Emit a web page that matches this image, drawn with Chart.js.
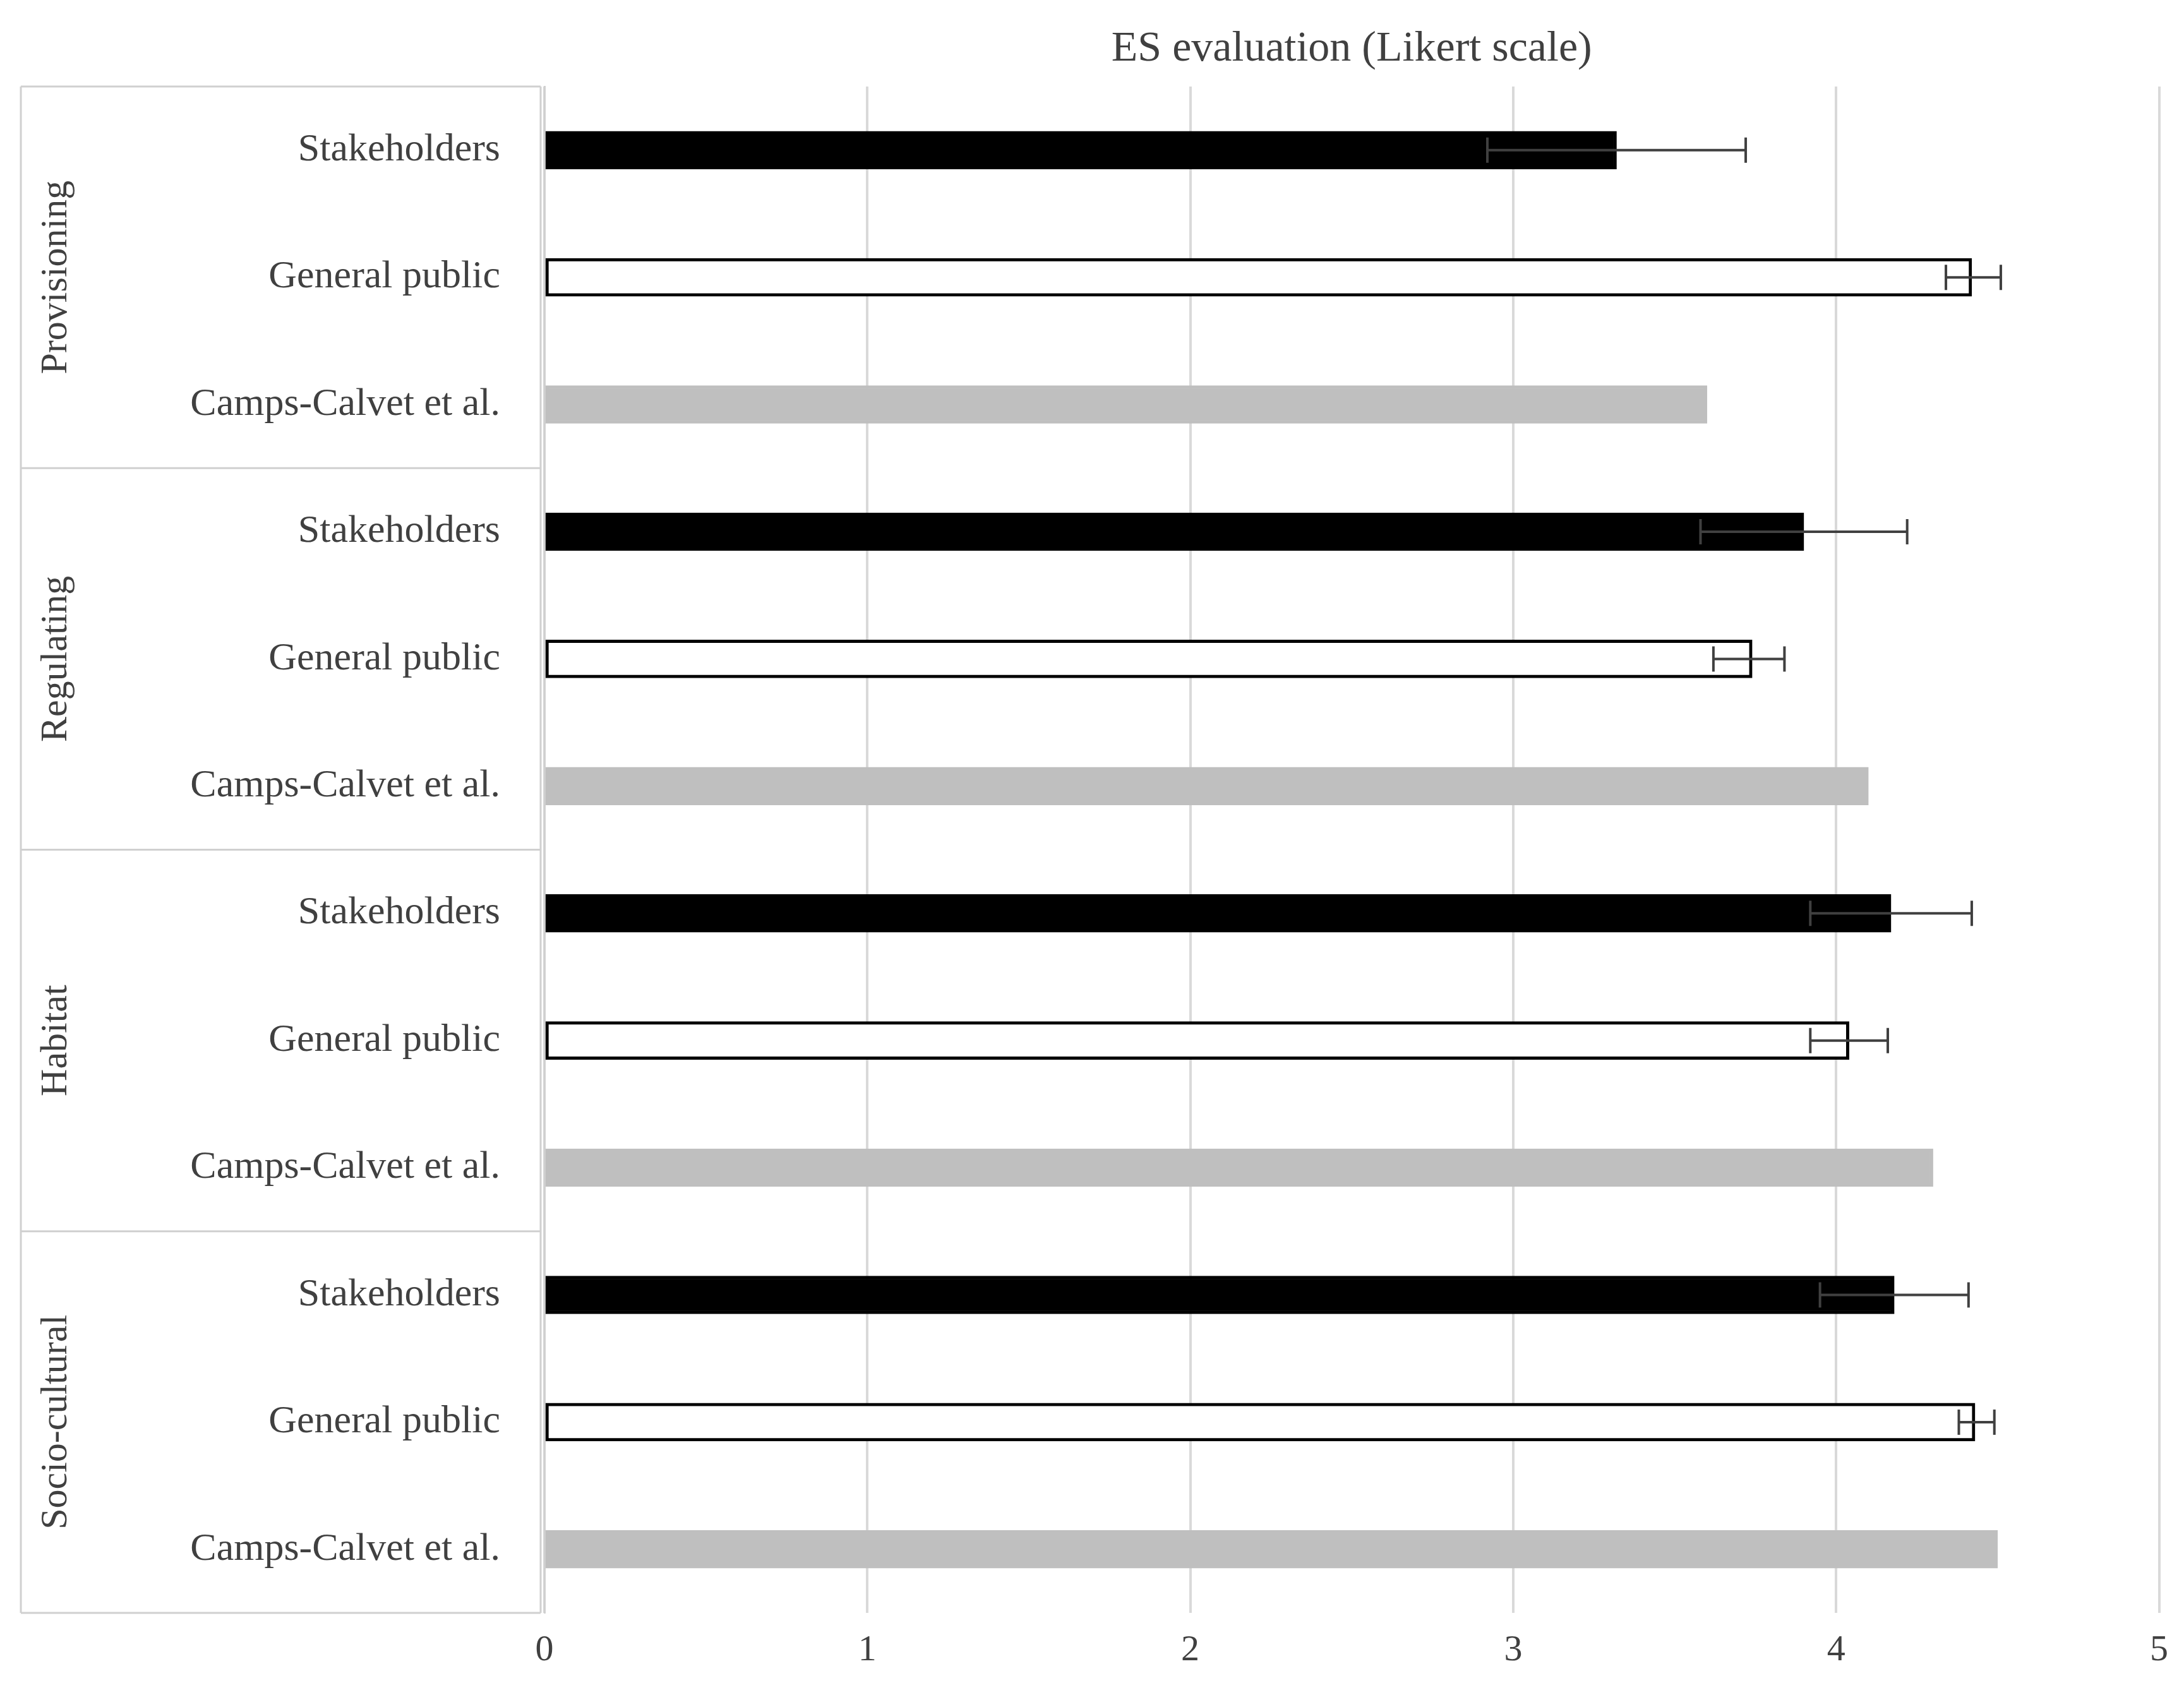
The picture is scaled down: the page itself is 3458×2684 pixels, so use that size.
<!DOCTYPE html>
<html>
<head>
<meta charset="utf-8">
<script src="https://cdn.jsdelivr.net/npm/chart.js@4/dist/chart.umd.min.js"></script>
<style>
  html, body { margin: 0; padding: 0; background: #fff; }
  #wrap { width: 3458px; height: 2684px; }
</style>
</head>
<body>
<div id="wrap"><canvas id="esChart" width="3458" height="2684"></canvas></div>
<script>
const groups = ['Provisioning', 'Regulating', 'Habitat', 'Socio-cultural'];
const sources = ['Stakeholders', 'General public', 'Camps-Calvet et al.'];

const stakeholders = [3.32, 3.90, 4.17, 4.18];
const stakeholdersLow = [2.92, 3.58, 3.92, 3.95];
const stakeholdersHigh = [3.72, 4.22, 4.42, 4.41];
const generalPublic = [4.42, 3.74, 4.04, 4.43];
const generalPublicLow = [4.34, 3.62, 3.92, 4.38];
const generalPublicHigh = [4.51, 3.84, 4.16, 4.49];
const campsCalvet = [3.60, 4.10, 4.30, 4.50];

const xTicks = [0, 1, 2, 3, 4, 5];

// flatten into rows (3 per group)
const labels = [], values = [], lows = [], highs = [], fills = [], borders = [];
groups.forEach((g, i) => {
  labels.push(sources[0]); values.push(stakeholders[i]);
  lows.push(stakeholdersLow[i]); highs.push(stakeholdersHigh[i]);
  fills.push('#000000'); borders.push('#000000');
  labels.push(sources[1]); values.push(generalPublic[i]);
  lows.push(generalPublicLow[i]); highs.push(generalPublicHigh[i]);
  fills.push('#ffffff'); borders.push('#000000');
  labels.push(sources[2]); values.push(campsCalvet[i]);
  lows.push(null); highs.push(null);
  fills.push('#bfbfbf'); borders.push('#bfbfbf');
});

const serif = '"Liberation Serif", "DejaVu Serif", serif';

const extras = {
  id: 'extras',
  afterDatasetsDraw(chart) {
    const c = chart.ctx, x = chart.scales.x, y = chart.scales.y, a = chart.chartArea;
    // error bars
    c.save();
    c.strokeStyle = '#404040';
    c.lineWidth = 4;
    lows.forEach((lo, i) => {
      if (lo === null) return;
      const yy = y.getPixelForValue(i);
      const x1 = x.getPixelForValue(lo), x2 = x.getPixelForValue(highs[i]);
      c.beginPath();
      c.moveTo(x1, yy); c.lineTo(x2, yy);
      c.moveTo(x1, yy - 20); c.lineTo(x1, yy + 20);
      c.moveTo(x2, yy - 20); c.lineTo(x2, yy + 20);
      c.stroke();
    });
    c.restore();
  },
  afterDraw(chart) {
    const c = chart.ctx, y = chart.scales.y, a = chart.chartArea;
    const rowH = (a.bottom - a.top) / labels.length;
    const boxL = 33, boxR = 856;
    c.save();
    c.strokeStyle = '#d0d0d0';
    c.lineWidth = 3;
    // group separators
    for (let g = 0; g <= groups.length; g++) {
      const yy = a.top + g * rowH * 3;
      c.beginPath(); c.moveTo(boxL, yy); c.lineTo(boxR, yy); c.stroke();
    }
    c.beginPath(); c.moveTo(boxL, a.top); c.lineTo(boxL, a.bottom); c.stroke();
    c.beginPath(); c.moveTo(boxR, a.top); c.lineTo(boxR, a.bottom); c.stroke();
    // group labels
    c.fillStyle = '#404040';
    c.font = '60px ' + serif;
    c.textAlign = 'center';
    c.textBaseline = 'middle';
    groups.forEach((g, i) => {
      const yy = a.top + (i * 3 + 1.5) * rowH;
      c.save();
      c.translate(89, yy);
      c.rotate(-Math.PI / 2);
      c.fillText(g, 0, 0);
      c.restore();
    });
    // title
    c.font = '68px ' + serif;
    c.fillText('ES evaluation (Likert scale)', (a.left + a.right) / 2, 78);
    c.restore();
  }
};

const ctx = document.getElementById('esChart').getContext('2d');
const esChart = new Chart(ctx, {
  type: 'bar',
  data: {
    labels: labels,
    datasets: [{
      data: values,
      backgroundColor: fills,
      borderColor: borders,
      borderWidth: 5,
      borderSkipped: false,
      barThickness: 60
    }]
  },
  options: {
    indexAxis: 'y',
    responsive: false,
    animation: false,
    layout: { padding: { top: 137, right: 33, left: 0, bottom: 0 } },
    plugins: { legend: { display: false }, tooltip: { enabled: false } },
    scales: {
      x: {
        min: 0, max: 5,
        afterBuildTicks(s) { s.ticks = xTicks.map(v => ({ value: v })); },
        afterFit(s) { s.height = 130; },
        grid: { color: '#d9d9d9', lineWidth: 4, drawTicks: false },
        border: { display: false },
        ticks: { color: '#404040', padding: 25, font: { family: serif, size: 58 } }
      },
      y: {
        afterFit(s) { s.width = 862; },
        grid: { display: false },
        border: { color: '#d0d0d0', width: 3 },
        ticks: { color: '#404040', padding: 62, font: { family: serif, size: 62 } }
      }
    }
  },
  plugins: [extras]
});
</script>
</body>
</html>
